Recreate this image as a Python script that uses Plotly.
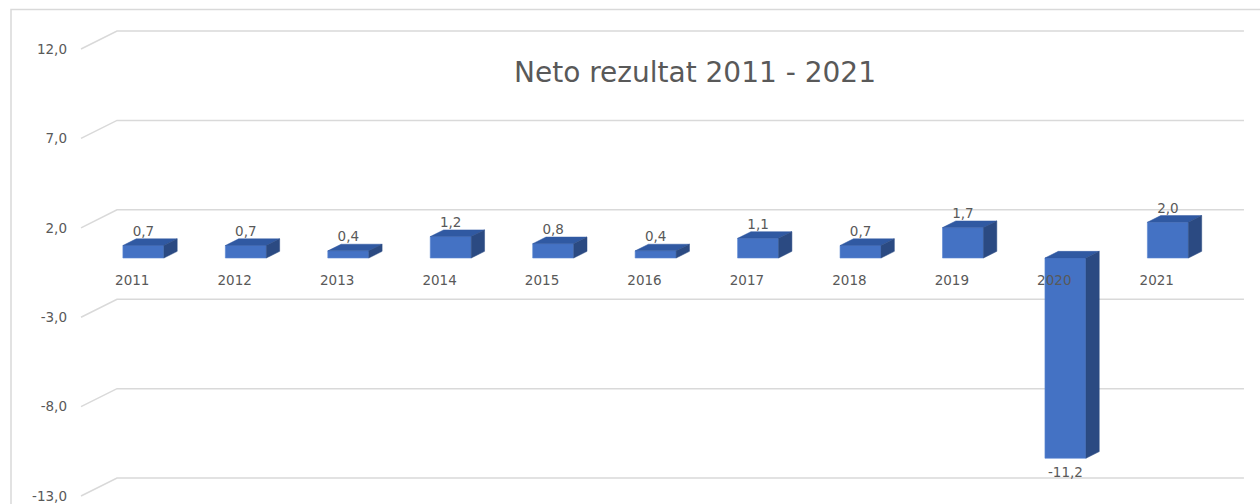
import plotly.graph_objects as go

# ---------------- data ----------------
years = ["2011", "2012", "2013", "2014", "2015", "2016", "2017", "2018", "2019", "2020", "2021"]
values = [0.7, 0.7, 0.4, 1.2, 0.8, 0.4, 1.1, 0.7, 1.7, -11.2, 2.0]
ytick_vals = [12, 7, 2, -3, -8, -13]
ytick_text = ["12,0", "7,0", "2,0", "-3,0", "-8,0", "-13,0"]
title_text = "Neto rezultat 2011 - 2021"

# ---------------- geometry / style ----------------
W, H = 1260, 504
ML = 70
PX_CAT = 102.45        # pixels per category
PX_UNIT = 17.88        # pixels per value unit
X_LEFT_PX = 81         # front-plane left edge
ZERO_PX = 263.6        # front-plane zero line
DX = 36 / PX_CAT       # depth offset to back wall (category units)
DY = 18 / PX_UNIT      # depth offset to back wall (value units)
F0 = 0.31              # bar front face depth fraction
FD = 0.37              # bar depth fraction
BW = 0.40              # bar width

FRONT = "#4472C4"
TOP = "#3059A2"
SIDE = "#2B4A82"
GRID = "#d9d9d9"
TXT = "#595959"
FONT = "DejaVu Sans"

n = len(years)
xs = list(range(n))
bx = [x + F0 * DX for x in xs]
base = F0 * DY
bdx = FD * DX
bdy = FD * DY

fig = go.Figure()

# front faces
fig.add_trace(go.Bar(
    x=bx, y=values, base=base, width=BW,
    marker=dict(color=FRONT, line=dict(color="#5a86d2", width=0.6)),
    hoverinfo="skip",
))

# top and side faces
tx, ty, sx, sy = [], [], [], []
for xc, v in zip(bx, values):
    top = base + max(v, 0)
    bot = base + min(v, 0)
    x0, x1 = xc - BW / 2, xc + BW / 2
    tx += [x0, x1, x1 + bdx, x0 + bdx, x0, None]
    ty += [top, top, top + bdy, top + bdy, top, None]
    sx += [x1, x1, x1 + bdx, x1 + bdx, x1, None]
    sy += [bot, top, top + bdy, bot + bdy, bot, None]

fig.add_trace(go.Scatter(x=tx, y=ty, mode="lines", fill="toself", fillcolor=TOP,
                         line=dict(color=TOP, width=0.5), hoverinfo="skip"))
fig.add_trace(go.Scatter(x=sx, y=sy, mode="lines", fill="toself", fillcolor=SIDE,
                         line=dict(color=SIDE, width=0.5), hoverinfo="skip"))

# data labels
lab_y = [base + v + 0.72 if v >= 0 else base + v - 0.86 for v in values]
lab_t = [f"{v:.1f}".replace(".", ",") for v in values]
fig.add_trace(go.Scatter(x=bx, y=lab_y, mode="text", text=lab_t,
                         textfont=dict(family=FONT, size=13.5, color=TXT),
                         textposition="middle center", cliponaxis=False, hoverinfo="skip"))

# back-wall gridlines with depth diagonals
shapes = []
for v in ytick_vals:
    shapes.append(dict(
        type="path", xref="x", yref="y", layer="below",
        path=f"M {-0.5},{v} L {-0.5 + DX},{v + DY} L {n - 0.5 + DX},{v + DY}",
        line=dict(color=GRID, width=1.5),
    ))
# chart border
shapes.append(dict(type="rect", xref="paper", yref="paper", layer="below",
                   x0=(11 - ML) / (W - ML), x1=1.02, y0=-0.02, y1=1 - 9.5 / H,
                   line=dict(color=GRID, width=1.5)))

x_lo = (ML - X_LEFT_PX) / PX_CAT - 0.5
x_hi = (W - X_LEFT_PX) / PX_CAT - 0.5
y_hi = ZERO_PX / PX_UNIT
y_lo = -(H - ZERO_PX) / PX_UNIT

fig.update_layout(
    width=W, height=H,
    margin=dict(l=ML, r=0, t=0, b=0),
    paper_bgcolor="white", plot_bgcolor="white",
    showlegend=False,
    shapes=shapes,
    title=dict(text=title_text, x=695 / W, xref="container", xanchor="center",
               y=1 - 72 / H, yref="container", yanchor="middle",
               font=dict(family=FONT, size=28, color=TXT)),
    xaxis=dict(range=[x_lo, x_hi], showgrid=False, zeroline=False, showline=False,
               tickvals=xs, ticktext=years, ticks="", anchor="free",
               position=(H - 270) / H,
               tickfont=dict(family=FONT, size=13.5, color=TXT)),
    yaxis=dict(range=[y_lo, y_hi], showgrid=False, zeroline=False, showline=False,
               tickvals=ytick_vals, ticktext=ytick_text, ticks="",
               ticklabelstandoff=2,
               tickfont=dict(family=FONT, size=13.5, color=TXT)),
)

fig.write_html("out.html",
               config={"displayModeBar": False},
               post_script="document.body.style.margin='0';document.body.style.overflow='hidden';")
